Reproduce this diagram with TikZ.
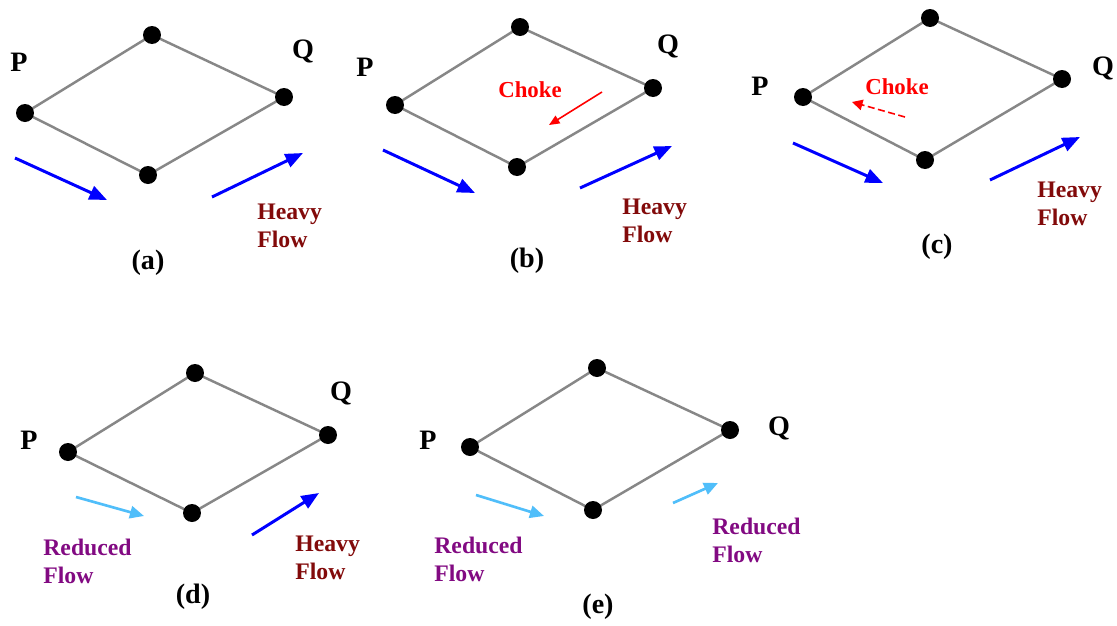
\documentclass[tikz,border=0pt]{standalone}
\usepackage{fontspec}
\setmainfont{Liberation Serif}
\usetikzlibrary{arrows.meta}
\definecolor{edgegray}{RGB}{135,135,135}
\definecolor{heavyred}{RGB}{130,10,10}
\definecolor{redpurple}{RGB}{130,10,130}
\definecolor{lightflow}{RGB}{80,190,250}
\begin{document}
\begin{tikzpicture}[x=0.02cm,y=-0.02cm,
  dot/.style={circle,fill=black,minimum size=0.36cm,inner sep=0},
  edge/.style={draw=edgegray,line width=1.4pt},
  lbl/.style={font=\fontsize{16}{18}\selectfont\bfseries,inner sep=0},
  captxt/.style={font=\fontsize{16}{18}\selectfont\bfseries,inner sep=0},
  flowtxt/.style={font=\fontsize{13.5}{16}\selectfont\bfseries,align=left,anchor=west,inner sep=0},
  heavy/.style={flowtxt,text=heavyred},
  reduced/.style={flowtxt,text=redpurple},
  choketxt/.style={font=\fontsize{13}{15}\selectfont\bfseries,text=red,inner sep=0},
  bluearrow/.style={draw=blue,line width=1.7pt,-{Triangle[length=10pt,width=8pt]}},
  lightarrow/.style={draw=lightflow,line width=1.5pt,-{Triangle[length=8pt,width=7pt]}},
  chokearrow/.style={draw=red,line width=0.9pt,-{Triangle[length=6pt,width=5pt]}},
  chokedash/.style={draw=red,line width=0.9pt,dash pattern=on 4pt off 2pt,-{Triangle[length=6pt,width=6pt]}}
]
\useasboundingbox (0,0) rectangle (1117,626);
\fill[white] (0,0) rectangle (1117,626);

% ---------- (a)
\coordinate (aL) at (25,113);
\coordinate (aT) at (152,35);
\coordinate (aR) at (284,97);
\coordinate (aB) at (148,175);
\draw[edge] (aL) -- (aT) -- (aR) -- (aB) -- cycle;
\node[dot] (naL) at (aL) {};\node[dot] (naT) at (aT) {};\node[dot] (naR) at (aR) {};\node[dot] (naB) at (aB) {};
\node[lbl] (aP) at (19,62) {P};
\node[lbl] (aQ) at (303,51) {Q};
\coordinate (a1s) at (15,158); \coordinate (a1e) at (107,200);
\coordinate (a2s) at (212,197); \coordinate (a2e) at (303,153);
\draw[bluearrow] (a1s) -- (a1e);
\draw[bluearrow] (a2s) -- (a2e);
\node[heavy] (aH) at (257,226) {Heavy\\Flow};
\node[captxt] (acap) at (148,263) {(a)};

% ---------- (b)
\coordinate (bL) at (395,105);
\coordinate (bT) at (520,27);
\coordinate (bR) at (653,88);
\coordinate (bB) at (517,167);
\draw[edge] (bL) -- (bT) -- (bR) -- (bB) -- cycle;
\node[dot] (nbL) at (bL) {};\node[dot] (nbT) at (bT) {};\node[dot] (nbR) at (bR) {};\node[dot] (nbB) at (bB) {};
\node[lbl] (bP) at (365,67) {P};
\node[lbl] (bQ) at (668,46) {Q};
\node[choketxt] (bC) at (530,90) {Choke};
\coordinate (bcs) at (602,92); \coordinate (bce) at (549,125);
\draw[chokearrow] (bcs) -- (bce);
\coordinate (b1s) at (383,150); \coordinate (b1e) at (475,193);
\coordinate (b2s) at (580,188); \coordinate (b2e) at (672,146);
\draw[bluearrow] (b1s) -- (b1e);
\draw[bluearrow] (b2s) -- (b2e);
\node[heavy] (bH) at (622,221) {Heavy\\Flow};
\node[captxt] (bcap) at (527,261) {(b)};

% ---------- (c)
\coordinate (cL) at (803,97);
\coordinate (cT) at (930,18);
\coordinate (cR) at (1062,79);
\coordinate (cB) at (925,160);
\draw[edge] (cL) -- (cT) -- (cR) -- (cB) -- cycle;
\node[dot] (ncL) at (cL) {};\node[dot] (ncT) at (cT) {};\node[dot] (ncR) at (cR) {};\node[dot] (ncB) at (cB) {};
\node[lbl] (cP) at (760,86) {P};
\node[lbl] (cQ) at (1103,68) {Q};
\node[choketxt] (cC) at (897,87) {Choke};
\coordinate (ccs) at (905,117); \coordinate (cce) at (852,102);
\draw[chokedash] (ccs) -- (cce);
\coordinate (c1s) at (793,143); \coordinate (c1e) at (883,183);
\coordinate (c2s) at (990,180); \coordinate (c2e) at (1080,137);
\draw[bluearrow] (c1s) -- (c1e);
\draw[bluearrow] (c2s) -- (c2e);
\node[heavy] (cH) at (1037,204) {Heavy\\Flow};
\node[captxt] (ccap) at (937,247) {(c)};

% ---------- (d)
\coordinate (dL) at (68,452);
\coordinate (dT) at (195,373);
\coordinate (dR) at (328,435);
\coordinate (dB) at (192,513);
\draw[edge] (dL) -- (dT) -- (dR) -- (dB) -- cycle;
\node[dot] (ndL) at (dL) {};\node[dot] (ndT) at (dT) {};\node[dot] (ndR) at (dR) {};\node[dot] (ndB) at (dB) {};
\node[lbl] (dP) at (29,440) {P};
\node[lbl] (dQ) at (341,393) {Q};
\coordinate (d1s) at (76,497); \coordinate (d1e) at (144,516);
\coordinate (d2s) at (252,535); \coordinate (d2e) at (319,493);
\draw[lightarrow] (d1s) -- (d1e);
\draw[bluearrow] (d2s) -- (d2e);
\node[reduced] (dR1) at (43,561) {Reduced\\Flow};
\node[heavy] (dH) at (295,558) {Heavy\\Flow};
\node[captxt] (dcap) at (193,597) {(d)};

% ---------- (e)
\coordinate (eL) at (470,447);
\coordinate (eT) at (597,368);
\coordinate (eR) at (730,430);
\coordinate (eB) at (593,510);
\draw[edge] (eL) -- (eT) -- (eR) -- (eB) -- cycle;
\node[dot] (neL) at (eL) {};\node[dot] (neT) at (eT) {};\node[dot] (neR) at (eR) {};\node[dot] (neB) at (eB) {};
\node[lbl] (eP) at (428,440) {P};
\node[lbl] (eQ) at (779,428) {Q};
\coordinate (e1s) at (476,495); \coordinate (e1e) at (544,516);
\coordinate (e2s) at (673,503); \coordinate (e2e) at (718,483);
\draw[lightarrow] (e1s) -- (e1e);
\draw[lightarrow] (e2s) -- (e2e);
\node[reduced] (eR1) at (434,559) {Reduced\\Flow};
\node[reduced] (eR2) at (712,540) {Reduced\\Flow};
\node[captxt] (ecap) at (598,607) {(e)};
\end{tikzpicture}
\end{document}
